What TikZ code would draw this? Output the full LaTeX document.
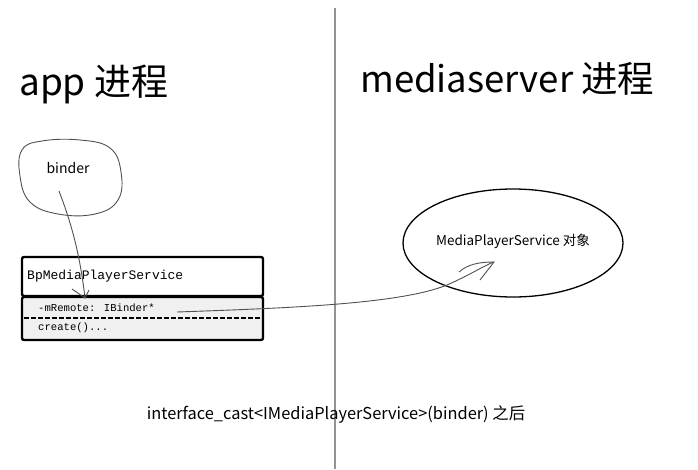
\documentclass[tikz,border=0pt]{standalone}
\usepackage{fontspec}
\setmainfont{Noto Sans CJK SC}
\newfontfamily\monof{Liberation Mono}
\usetikzlibrary{arrows.meta}
\definecolor{pen}{HTML}{505050}
\definecolor{boxfill}{HTML}{F0F0F0}
\tikzset{
  sketch/.style={draw=pen, line width=0.9pt},
  bigtitle/.style={font=\fontsize{37}{42}\selectfont, anchor=west, inner sep=0pt},
  label/.style={font=\fontsize{13.5}{15}\selectfont, inner sep=0pt},
  mono/.style={font=\monof\fontsize{13}{14}\selectfont, anchor=west, inner sep=0pt},
  monosmall/.style={font=\monof\fontsize{10.6}{12}\selectfont, anchor=west, inner sep=0pt},
  heavy/.style={draw=black, line width=2.4pt, rounded corners=2pt},
}
\begin{document}
\begin{tikzpicture}[x=1pt,y=-1pt]
\useasboundingbox (0,0) rectangle (698,469);
% divider
\draw[draw=gray!85, line width=1.5pt] (335,8) -- (335,469);
% titles
\node[bigtitle] (apptitle) at (19,84) {app 进程};
\node[bigtitle, font=\fontsize{36.5}{42}\selectfont] (mstitle) at (360,79) {mediaserver 进程};
% binder blob
\draw[sketch] plot[smooth cycle, tension=0.7] coordinates {(22,150) (42,141) (80,140) (110,148) (121,172) (118,200) (95,214) (58,214) (30,202) (20,176)};
\node[label, font=\fontsize{14}{15}\selectfont] (binder) at (68,168) {binder};
% class box
\draw[heavy, fill=boxfill] (22,297) rectangle (263,340);
\draw[heavy, fill=white] (22,257) rectangle (263,296);
\draw[black, line width=1.8pt, dash pattern=on 4.5pt off 2.5pt] (24,318) -- (261,318);
\node[mono] (cls) at (27,276) {BpMediaPlayerService};
\node[monosmall] (mremote) at (38,308) {-mRemote: IBinder*};
\node[monosmall] (create) at (38,328) {create()...};
% ellipse object
\draw[black, line width=1.3pt] (513,243) ellipse [x radius=110, y radius=54];
\node[label] (mps) at (513,241) {MediaPlayerService 对象};
% connectors
\coordinate (b1) at (59,191);
\coordinate (tip1) at (85,298);
\draw[sketch] (b1) .. controls (72,225) and (80,255) .. (tip1);
\draw[sketch] (72,289) -- (tip1) -- (89,290);
\coordinate (m1) at (177,312);
\coordinate (tip2) at (494,262);
\draw[sketch] (m1) .. controls (290,308) and (400,304) .. (447,285) .. controls (470,275) and (485,265) .. (tip2);
\draw[sketch] (459,272) .. controls (468,264) and (480,262) .. (tip2) -- (480,280);
% caption
\node[label, font=\fontsize{16.4}{18}\selectfont] (cap) at (336,414) {interface\_cast<IMediaPlayerService>(binder) 之后};
\end{tikzpicture}
\end{document}
